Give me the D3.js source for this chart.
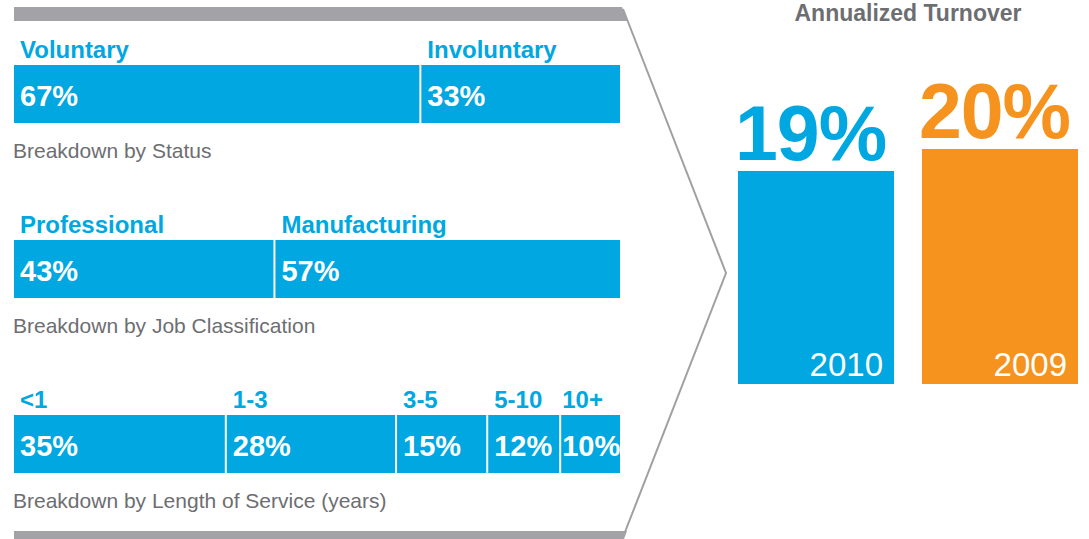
<!DOCTYPE html>
<html>
<head>
<meta charset="utf-8">
<script src="https://cdn.jsdelivr.net/npm/d3@7"></script>
<style>
  html, body { margin: 0; padding: 0; background: #fff; }
  svg { display: block; font-family: "Liberation Sans", Arial, Helvetica, sans-serif; }
</style>
</head>
<body>
<svg id="chart" width="1089" height="539"></svg>
<script>
// ---- Data ----
const statusCategories = ["Voluntary", "Involuntary"];
const statusValues = [67, 33];
const jobCategories = ["Professional", "Manufacturing"];
const jobValues = [43, 57];
const serviceCategories = ["<1", "1-3", "3-5", "5-10", "10+"];
const serviceValues = [35, 28, 15, 12, 10];
const breakdownCaptions = ["Breakdown by Status", "Breakdown by Job Classification", "Breakdown by Length of Service (years)"];

const turnoverYears = ["2010", "2009"];
const turnoverValues = [19, 20];
const turnoverTitle = "Annualized Turnover";
const turnoverAxisMin = 9.3;

// ---- Styles ----
const BLUE = "#00a7e1", ORANGE = "#f6921e", GRAY_TEXT = "#6d6e71", BAND = "#a3a3a7", LINE = "#9fa0a4";

const svg = d3.select("#chart");

// Bracket / arrow frame
svg.append("path")
  .attr("d", "M14,7 L622,7 L627,21 L14,21 Z")
  .attr("fill", BAND);
svg.append("path")
  .attr("d", "M14,531 L627,531 L624,539 L14,539 Z")
  .attr("fill", BAND);
svg.append("path")
  .attr("d", "M623,9 L726,273 L625,532")
  .attr("fill", "none").attr("stroke", LINE).attr("stroke-width", 2);

// Breakdown rows
const rows = [
  { cats: statusCategories, vals: statusValues, caption: breakdownCaptions[0] },
  { cats: jobCategories, vals: jobValues, caption: breakdownCaptions[1] },
  { cats: serviceCategories, vals: serviceValues, caption: breakdownCaptions[2] }
];

const x = d3.scaleLinear().domain([0, 100]).range([13, 621]);
const rowY = d3.scaleBand().domain(d3.range(rows.length)).range([65, 590]).paddingInner(0);
const barH = 58;

rows.forEach((row, ri) => {
  const top = rowY(ri);
  const g = svg.append("g");
  let cum = 0;
  const segs = row.vals.map((v, i) => { const s = { cat: row.cats[i], v, start: cum }; cum += v; return s; });

  segs.forEach(s => {
    const x0 = x(s.start) + 1, x1 = x(s.start + s.v) - 1;
    g.append("rect")
      .attr("x", x0).attr("y", top)
      .attr("width", x1 - x0).attr("height", barH)
      .attr("fill", BLUE);

    const val = g.append("text")
      .attr("y", top + 41)
      .attr("fill", "#fff")
      .attr("font-weight", "bold")
      .attr("font-size", 29)
      .text(s.v + "%");
    const tw = val.node().getComputedTextLength();
    const off = Math.min(6, Math.max(1, (x1 - x0 - tw) / 2));
    val.attr("x", x0 + off);

    g.append("text")
      .attr("x", x0 + off)
      .attr("y", top - 7)
      .attr("fill", BLUE)
      .attr("font-weight", "bold")
      .attr("font-size", 24)
      .text(s.cat);
  });

  g.append("text")
    .attr("x", 13)
    .attr("y", top + barH + 35)
    .attr("fill", GRAY_TEXT)
    .attr("font-size", 21)
    .text(row.caption);
});

// Annualized turnover
const bx = d3.scaleBand().domain(turnoverYears).range([738, 1078]).paddingInner(0.152).paddingOuter(0);
const by = d3.scaleLinear().domain([turnoverAxisMin, 20]).range([384, 149]);
const tColors = d3.scaleOrdinal().domain(turnoverYears).range([BLUE, ORANGE]);

svg.append("text")
  .attr("x", (bx.range()[0] + bx.range()[1]) / 2)
  .attr("y", 21)
  .attr("text-anchor", "middle")
  .attr("fill", GRAY_TEXT)
  .attr("font-weight", "bold")
  .attr("font-size", 23)
  .text(turnoverTitle);

const tg = svg.append("g").selectAll("g")
  .data(turnoverYears.map((yr, i) => ({ yr, v: turnoverValues[i] })))
  .join("g");

tg.append("rect")
  .attr("x", d => bx(d.yr))
  .attr("y", d => by(d.v))
  .attr("width", bx.bandwidth())
  .attr("height", d => by(turnoverAxisMin) - by(d.v))
  .attr("fill", d => tColors(d.yr));

tg.append("text")
  .attr("x", d => bx(d.yr) - 3)
  .attr("y", d => by(d.v) - 11)
  .attr("fill", d => tColors(d.yr))
  .attr("font-weight", "bold")
  .attr("font-size", 77)
  .attr("letter-spacing", -1)
  .text(d => d.v + "%");

tg.append("text")
  .attr("x", d => bx(d.yr) + bx.bandwidth() - 11)
  .attr("y", by(turnoverAxisMin) - 8)
  .attr("text-anchor", "end")
  .attr("fill", "#fff")
  .attr("font-size", 33)
  .text(d => d.yr);
</script>
</body>
</html>
